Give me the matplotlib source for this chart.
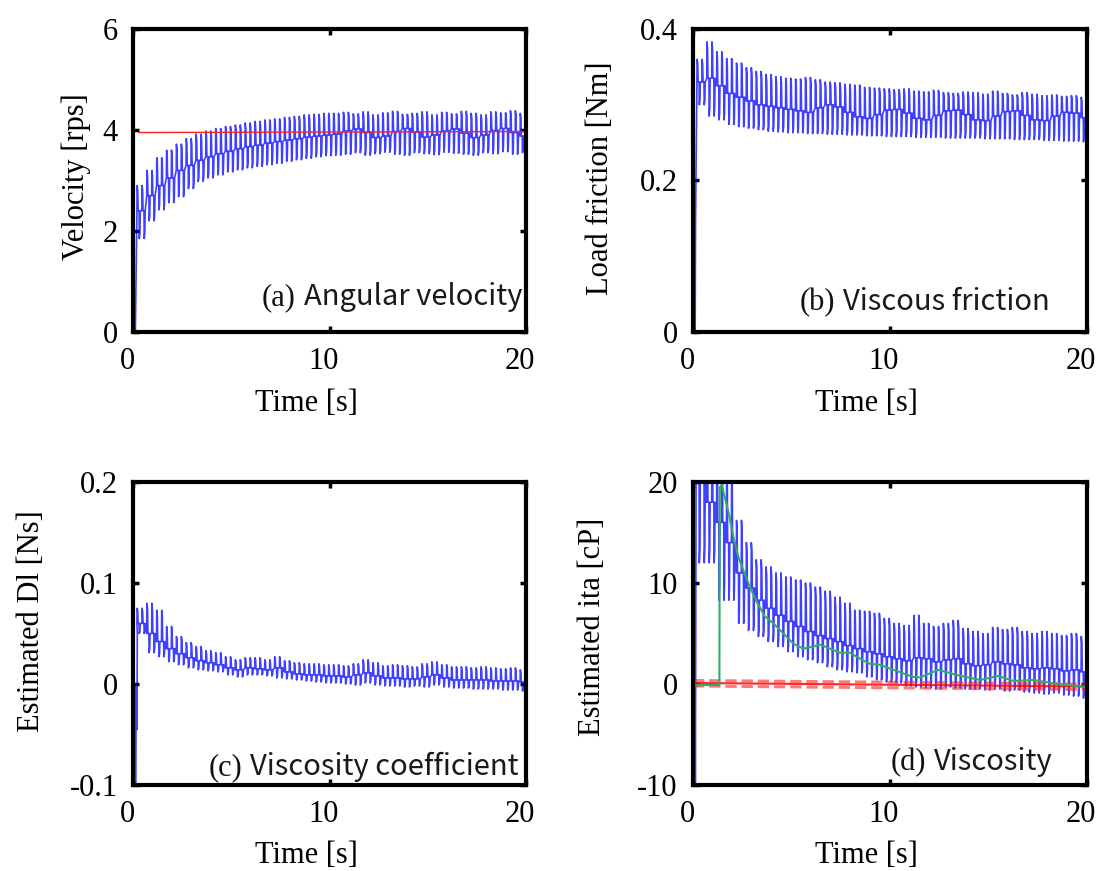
import numpy as np
import matplotlib
matplotlib.use('Agg')
import matplotlib.pyplot as plt
from matplotlib.transforms import ScaledTranslation

plt.rcParams['axes.unicode_minus'] = False
SERIF = 'Liberation Serif'
SANS = 'Noto Sans CJK JP'

W, H = 1097, 871

# envelope values read every 0.5 s (t = 0, 0.5, ..., 20); each value covers two cycles
# (a) angular velocity [rps]
vel_hi = [2.9, 3.2, 3.45, 3.6, 3.72, 3.83, 3.92, 3.98, 4.03, 4.07, 4.1, 4.14, 4.17, 4.2,
          4.22, 4.25, 4.27, 4.3, 4.31, 4.33, 4.33, 4.35, 4.32, 4.36, 4.3, 4.34, 4.37, 4.31,
          4.33, 4.36, 4.3, 4.35, 4.32, 4.37, 4.33, 4.3, 4.36, 4.34, 4.38, 4.33, 4.4]
vel_lo = [1.85, 2.2, 2.42, 2.56, 2.68, 2.84, 2.98, 3.05, 3.11, 3.17, 3.21, 3.25, 3.28, 3.31,
          3.34, 3.38, 3.41, 3.44, 3.47, 3.49, 3.5, 3.52, 3.55, 3.5, 3.53, 3.56, 3.52, 3.5,
          3.55, 3.53, 3.51, 3.56, 3.54, 3.52, 3.5, 3.55, 3.53, 3.57, 3.52, 3.55, 3.58]
vel_mid = [2.4, 2.7, 2.9, 3.05, 3.2, 3.3, 3.4, 3.47, 3.53, 3.58, 3.63, 3.67, 3.7, 3.74,
           3.77, 3.8, 3.83, 3.86, 3.88, 3.9, 3.92, 3.98, 4.02, 3.95, 3.85, 3.88, 3.97, 4.03,
           3.96, 3.86, 3.9, 3.98, 4.02, 3.94, 3.85, 3.9, 3.99, 4.03, 3.95, 3.88, 3.95]
vel_start_t = [0.0, 0.12]
vel_start_v = [0.0, 0.0]
vel_ref_t = [0.3, 20.0]
vel_ref_v = [3.95, 3.97]

# (b) load friction [Nm]
fric_hi = [0.36, 0.383, 0.37, 0.361, 0.355, 0.349, 0.344, 0.34, 0.337, 0.335, 0.334, 0.336,
           0.333, 0.33, 0.329, 0.327, 0.326, 0.323, 0.322, 0.321, 0.32, 0.321, 0.318, 0.317,
           0.319, 0.316, 0.315, 0.317, 0.316, 0.314, 0.318, 0.315, 0.313, 0.316, 0.314,
           0.312, 0.313, 0.311, 0.312, 0.31, 0.311]
fric_lo = [0.3, 0.285, 0.28, 0.274, 0.271, 0.269, 0.267, 0.265, 0.264, 0.263, 0.263, 0.262,
           0.262, 0.261, 0.261, 0.26, 0.26, 0.259, 0.259, 0.258, 0.258, 0.258, 0.257, 0.257,
           0.257, 0.256, 0.256, 0.256, 0.256, 0.255, 0.255, 0.255, 0.254, 0.254, 0.254,
           0.253, 0.253, 0.252, 0.252, 0.251, 0.251]
fric_mid = [0.33, 0.335, 0.325, 0.315, 0.31, 0.305, 0.3, 0.298, 0.296, 0.294, 0.292, 0.29,
            0.296, 0.3, 0.297, 0.29, 0.284, 0.282, 0.287, 0.293, 0.294, 0.289, 0.282, 0.28,
            0.286, 0.292, 0.293, 0.287, 0.28, 0.279, 0.285, 0.291, 0.292, 0.286, 0.28,
            0.279, 0.285, 0.29, 0.289, 0.283, 0.28]
fric_start_t = [0.0, 0.11, 0.13]
fric_start_v = [0.0, 0.0, 0.15]

# (c) viscosity coefficient [Ns]
dl_hi = [0.075, 0.08, 0.073, 0.057, 0.047, 0.041, 0.037, 0.033, 0.031, 0.027, 0.024, 0.026,
         0.026, 0.024, 0.027, 0.023, 0.021, 0.02, 0.02, 0.019, 0.019, 0.018, 0.02, 0.024,
         0.021, 0.018, 0.019, 0.018, 0.017, 0.02, 0.022, 0.019, 0.017, 0.017, 0.016, 0.017,
         0.016, 0.015, 0.016, 0.014, 0.014]
dl_lo = [0.05, 0.031, 0.027, 0.022, 0.019, 0.016, 0.014, 0.013, 0.012, 0.009, 0.007, 0.009,
         0.009, 0.008, 0.006, 0.005, 0.004, 0.003, 0.002, 0.001, 0.001, 0.0, -0.001, 0.001,
         -0.001, -0.002, -0.002, -0.003, -0.002, -0.003, -0.001, -0.003, -0.004, -0.004,
         -0.005, -0.005, -0.005, -0.006, -0.006, -0.007, -0.008]
dl_mid = [0.06, 0.05, 0.042, 0.035, 0.03, 0.026, 0.023, 0.021, 0.019, 0.016, 0.014, 0.016,
          0.015, 0.014, 0.016, 0.012, 0.01, 0.009, 0.009, 0.008, 0.008, 0.007, 0.009, 0.011,
          0.008, 0.006, 0.006, 0.005, 0.005, 0.007, 0.009, 0.006, 0.004, 0.004, 0.004,
          0.004, 0.003, 0.003, 0.003, 0.002, 0.002]
dl_start_t = [0.0, 0.1, 0.11, 0.14, 0.16, 0.2, 0.22]
dl_start_v = [0.0, 0.0, -0.12, -0.12, 0.0, -0.045, 0.05]

# (d) viscosity [cP]
ita_hi = [24, 24, 24, 22, 16.2, 14, 12.3, 11.6, 11, 10.6, 10.3, 10, 9.6, 9.2, 8.6, 8, 7.3,
          7.2, 7, 6.5, 6, 5.8, 6.8, 6, 5.7, 6, 6.3, 5.5, 5.2, 5, 5.6, 5.4, 5.6, 5.2, 5, 5.2,
          5, 4.8, 5, 4.7, 4.7]
ita_lo = [12, 12, 8.3, 8.3, 6, 5.3, 4.7, 4.2, 3.7, 3.2, 2.7, 2.4, 2.1, 1.7, 1.4, 1.2, 1.1,
          0.7, 0.4, 0.2, 0.1, -0.2, -0.3, -0.4, -0.5, -0.3, -0.4, -0.5, -0.5, -0.6, -0.5,
          -0.7, -0.6, -0.8, -0.9, -1.0, -0.9, -1.1, -1.2, -1.4, -1.9]
ita_mid = [20, 18, 16, 14, 11, 9.5, 8.3, 7.5, 6.8, 6.2, 5.7, 5.2, 4.8, 4.5, 4.2, 3.8, 3.5,
           3.2, 3.0, 2.7, 2.5, 2.3, 2.6, 2.5, 2.2, 2.4, 2.5, 2.0, 1.8, 1.9, 2.2, 2.0, 1.9,
           1.6, 1.5, 1.6, 1.5, 1.3, 1.4, 1.2, 1.0]
ita_start_t = [0.0, 0.1, 0.12, 0.16]
ita_start_v = [0.0, 0.0, -12.0, 24.0]
ita_avg_t = [0.1, 1.34, 1.36, 1.46, 1.79, 2.05, 2.3, 2.55, 2.89, 3.23, 3.65, 4.08, 4.59,
             5.09, 5.6, 6.1, 6.45, 6.95, 7.46, 7.97, 8.48, 8.98, 9.49, 10.17, 11.18, 11.52,
             12.45, 13.38, 14.57, 15.5, 16.26, 17.28, 18.29, 19.9, 20.0]
ita_avg_v = [-0.1, -0.1, 19.5, 19.7, 17.1, 14.6, 12.6, 11.3, 9.6, 8.15, 6.7, 6.0, 5.0, 4.0,
             3.5, 3.7, 3.9, 3.5, 3.1, 3.1, 2.5, 2.0, 1.9, 1.4, 0.7, 0.65, 1.4, 0.9, 0.4,
             0.8, 0.3, 0.4, 0.07, -0.3, -0.3]
ita_ref_t = [0.0, 20.0]
ita_ref_v = [0.1, -0.25]
ita_ref_up = [0.35, 0.0]
ita_ref_dn = [-0.2, -0.55]


def wave(start_t, start_v, hi, lo, mid, t0=0.2, period=0.25):
    # per revolution: a sharp spike up and a sharp spike down around the mid level
    hi_c = np.repeat(hi, 2)
    lo_c = np.repeat(lo, 2)
    mid_c = np.repeat(mid, 2)
    tc = t0 + period * np.arange(len(hi_c))
    hi2 = hi_c - 0.2 * (hi_c - mid_c)
    lo2 = lo_c + 0.2 * (mid_c - lo_c)
    ph = np.array([0.0, 0.01, 0.04, 0.06, 0.11, 0.12, 0.15, 0.17])
    t = (tc[:, None] + ph).ravel()
    v = np.column_stack([mid_c, hi_c, hi2, mid_c, mid_c, lo_c, lo2, mid_c]).ravel()
    return np.concatenate([start_t, t]), np.concatenate([start_v, v])


def make_ax(left, top, right, bottom):
    ax = fig.add_axes([left / W, 1 - bottom / H, (right - left) / W, (bottom - top) / H])
    for s in ax.spines.values():
        s.set_linewidth(3)
        s.set_zorder(5)
    ax.tick_params(direction='in', length=4, width=2.5, top=True, right=True,
                   labelsize=22, pad=11)
    return ax


def style_ticks(ax, yticks, ylabels):
    ax.set_xlim(0, 20)
    ax.set_xticks([0, 10, 20])
    ax.set_xticklabels(['0', '10', '20'])
    ax.set_yticks(yticks)
    ax.set_yticklabels(ylabels)
    ax.set_ylim(yticks[0], yticks[-1])
    off = ScaledTranslation(-6 / 100, 0, fig.dpi_scale_trans)
    for lab in ax.get_xticklabels() + ax.get_yticklabels():
        lab.set_fontfamily(SERIF)
    for lab in ax.get_xticklabels():
        lab.set_transform(lab.get_transform() + off)


fig = plt.figure(figsize=(W / 100, H / 100), dpi=100)

ax1 = make_ax(133, 29, 526, 332)
ax2 = make_ax(693, 29, 1087, 332)
ax3 = make_ax(133, 482, 526, 785)
ax4 = make_ax(693, 482, 1087, 785)

blue = '#0000ff'
lw = 1.2
al = 0.75

t, v = wave(vel_start_t, vel_start_v, vel_hi, vel_lo, vel_mid)
ax1.plot(t, v, color=blue, lw=lw, alpha=al)
ax1.plot(vel_ref_t, vel_ref_v, color='#ff2020', lw=1.0)
style_ticks(ax1, [0, 2, 4, 6], ['0', '2', '4', '6'])

t, v = wave(fric_start_t, fric_start_v, fric_hi, fric_lo, fric_mid)
ax2.plot(t, v, color=blue, lw=lw, alpha=al)
style_ticks(ax2, [0, 0.2, 0.4], ['0', '0.2', '0.4'])

t, v = wave(dl_start_t, dl_start_v, dl_hi, dl_lo, dl_mid)
ax3.plot(t, v, color=blue, lw=lw, alpha=al)
style_ticks(ax3, [-0.1, 0, 0.1, 0.2], ['-0.1', '0', '0.1', '0.2'])

t, v = wave(ita_start_t, ita_start_v, ita_hi, ita_lo, ita_mid)
ax4.plot(t, v, color=blue, lw=lw, alpha=al)
ax4.plot(ita_ref_t, ita_ref_up, color='#ff2020', lw=2.2, ls='--', alpha=0.6)
ax4.plot(ita_ref_t, ita_ref_dn, color='#ff2020', lw=2.2, ls='--', alpha=0.6)
ax4.plot(ita_ref_t, ita_ref_v, color='#ff0000', lw=1.5, alpha=0.85)
ax4.plot(ita_avg_t, ita_avg_v, color='#2fae62', lw=1.5)
style_ticks(ax4, [-10, 0, 10, 20], ['-10', '0', '10', '20'])

# axis labels
ylabels = [('Velocity [rps]', 76, 177), ('Load friction [Nm]', 600, 178),
           ('Estimated Dl [Ns]', 32, 621), ('Estimated ita [cP]', 592, 627)]
for txt, x, y in ylabels:
    fig.text(x / W, 1 - y / H, txt, rotation=90, ha='center', va='center',
             fontsize=22, fontfamily=SERIF)
for x, y in [(306, 403), (866, 403), (306, 855), (866, 855)]:
    fig.text(x / W, 1 - y / H, 'Time [s]', ha='center', va='center',
             fontsize=22, fontfamily=SERIF)

# panel captions: serif letter + sans description
captions = [('(a)', 'Angular velocity', 522, 305), ('(b)', 'Viscous friction', 1050, 310),
            ('(c)', 'Viscosity coefficient', 519, 775), ('(d)', 'Viscosity', 1053, 770)]
sans_texts = []
for tag, desc, x, y in captions:
    st = fig.text(x / W, 1 - y / H, desc, ha='right', va='baseline',
                  fontsize=21, fontfamily=SANS, color='#1a1a1a')
    sans_texts.append((st, tag, y))
fig.canvas.draw()
r = fig.canvas.get_renderer()
for st, tag, y in sans_texts:
    bb = st.get_window_extent(r)
    fig.text((bb.x0 - 8) / W, 1 - y / H, tag, ha='right', va='baseline',
             fontsize=22, fontfamily=SERIF, color='#111111')

fig.savefig('out.png', dpi=100)
